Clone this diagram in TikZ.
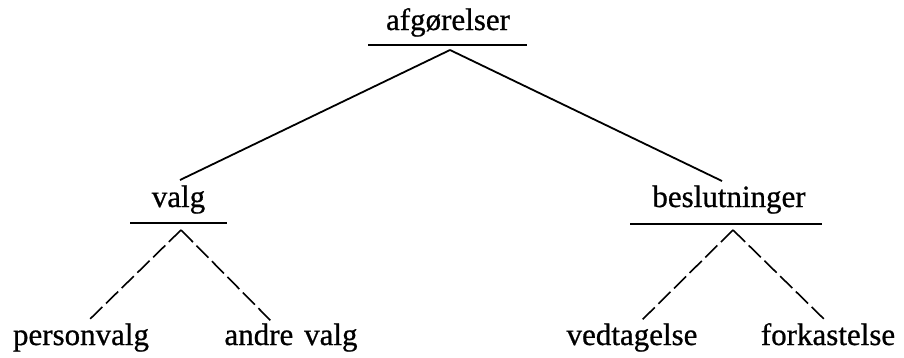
\documentclass[tikz,border=0pt]{standalone}
\usepackage{fontspec}
\setmainfont{Liberation Serif}[FakeBold=0.7]
\usetikzlibrary{calc}
\begin{document}
\begin{tikzpicture}[x=1pt,y=-1pt,
  lbl/.style={anchor=base,inner sep=0pt,font=\fontsize{31}{36}\selectfont},
  uline/.style={line width=2pt},
  solidlink/.style={line width=1.8pt},
  dashlink/.style={line width=1.6pt,dash pattern=on 17pt off 5pt}]
\useasboundingbox (0,0) rectangle (904,357);
% nodes
\node[lbl] (afg) at (448,30) {afgørelser};
\node[lbl] (valg) at (178.5,207) {valg};
\node[lbl] (besl) at (729,207) {beslutninger};
\node[lbl] (pers) at (81,345) {personvalg};
\node[lbl] (andre) at (291,345) {andre\hspace{0.35em}valg};
\node[lbl] (vedt) at (632,345) {vedtagelse};
\node[lbl] (fork) at (828,345) {forkastelse};
% underlines
\draw[uline] ($(afg.base)+(-80,15)$) -- ($(afg.base)+(79,15)$);
\draw[uline] ($(valg.base)+(-48.5,16)$) -- ($(valg.base)+(48.5,16)$);
\draw[uline] ($(besl.base)+(-99,17)$) -- ($(besl.base)+(93,17)$);
% apex points under the underlines
\coordinate (afgA) at ($(afg.base)+(2,20)$);
\coordinate (valgA) at ($(valg.base)+(2.5,23)$);
\coordinate (beslA) at ($(besl.base)+(4,23)$);
% solid connectors
\draw[solidlink] (afgA) -- ($(valg.base)+(1.5,-27)$);
\draw[solidlink] (afgA) -- ($(besl.base)+(-7,-26)$);
% dashed connectors
\draw[dashlink] (valgA) -- ($(pers.base)+(6,-23)$);
\draw[dashlink] (valgA) -- ($(andre.base)+(-19,-23)$);
\draw[dashlink] (beslA) -- ($(vedt.base)+(8,-23)$);
\draw[dashlink] (beslA) -- ($(fork.base)+(-1,-23)$);
\end{tikzpicture}
\end{document}
